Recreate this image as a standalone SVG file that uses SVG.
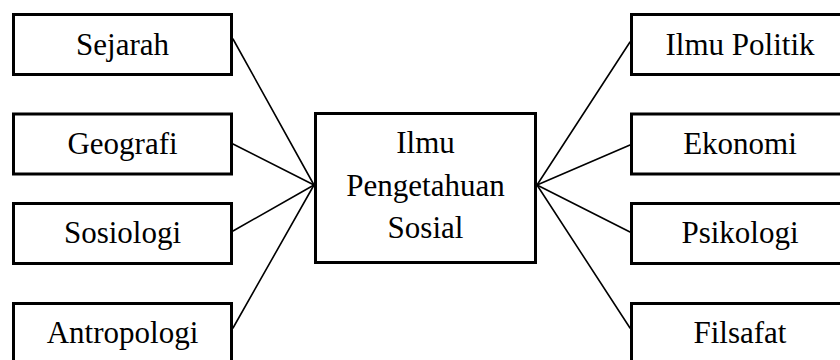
<svg xmlns="http://www.w3.org/2000/svg" width="840" height="360" viewBox="0 0 840 360">
<style>
.box{fill:#fff;stroke:#000;stroke-width:3}
.t{font-family:'Liberation Serif','Times New Roman',Times,'DejaVu Serif',serif;font-size:31px;fill:#000;text-anchor:middle}
.c line{stroke:#000;stroke-width:1.6;stroke-linecap:round}
</style>
<rect width="840" height="360" fill="#fff"/>
<g class="c" id="connectors">
<line x1="233" y1="39" x2="314" y2="185"/>
<line x1="233" y1="144" x2="314" y2="185"/>
<line x1="233" y1="231" x2="314" y2="185"/>
<line x1="233" y1="328" x2="314" y2="185"/>
<line x1="630" y1="42" x2="537" y2="185"/>
<line x1="630" y1="145" x2="537" y2="185"/>
<line x1="630" y1="232" x2="537" y2="185"/>
<line x1="630" y1="328" x2="537" y2="185"/>
</g>
<g id="sejarah"><rect class="box" x="13.5" y="14.5" width="218" height="60"/><text class="t" font-family="Liberation Serif, serif" x="122.5" y="55">Sejarah</text></g>
<g id="geografi"><rect class="box" x="13.5" y="114" width="218" height="60"/><text class="t" x="122.5" y="154">Geografi</text></g>
<g id="sosiologi"><rect class="box" x="13.5" y="203.5" width="218" height="60"/><text class="t" x="122.5" y="243">Sosiologi</text></g>
<g id="antropologi"><rect class="box" x="13.5" y="303.5" width="218" height="60"/><text class="t" x="122.5" y="343">Antropologi</text></g>
<g id="ips"><rect class="box" x="315.5" y="113.5" width="220" height="149"/>
<text class="t" x="425.5" y="153">Ilmu</text>
<text class="t" x="425.5" y="196">Pengetahuan</text>
<text class="t" x="425.5" y="238">Sosial</text></g>
<g id="ilmu-politik"><rect class="box" x="631.5" y="14.5" width="218" height="60"/><text class="t" x="740" y="55">Ilmu Politik</text></g>
<g id="ekonomi"><rect class="box" x="631.5" y="114" width="218" height="60"/><text class="t" x="740" y="154">Ekonomi</text></g>
<g id="psikologi"><rect class="box" x="631.5" y="203.5" width="218" height="60"/><text class="t" x="740" y="243">Psikologi</text></g>
<g id="filsafat"><rect class="box" x="631.5" y="303.5" width="218" height="60"/><text class="t" x="740" y="343">Filsafat</text></g>
</svg>
